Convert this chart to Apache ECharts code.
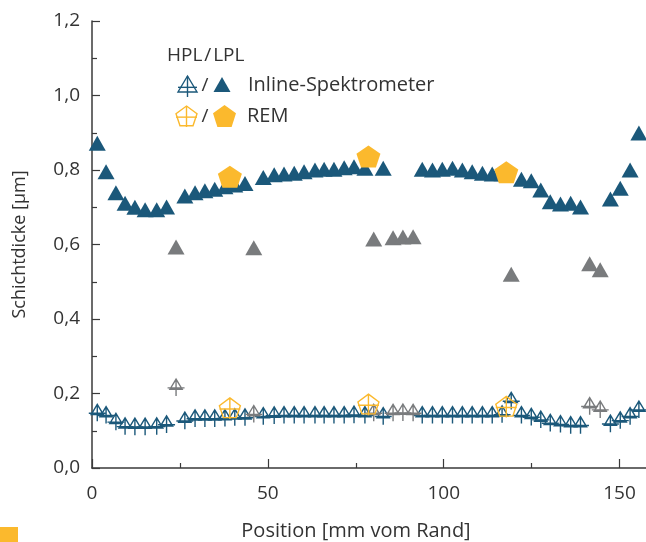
<!DOCTYPE html>
<html>
<head>
<meta charset="utf-8">
<script src="https://cdn.jsdelivr.net/npm/echarts@6/dist/echarts.min.js"></script>
<style>
html,body{margin:0;padding:0;background:#fff;}
#chart{width:646px;height:542px;}
</style>
</head>
<body>
<div id="chart"></div>
<script>
// ---- data (positions in mm, thickness in µm) ----
const lplX = [1.5, 4.0, 6.8, 9.4, 12.2, 15.1, 18.4, 21.2, 26.4, 29.3, 32.1, 34.9, 37.8, 40.6, 43.5, 48.7, 51.8, 54.6, 57.5, 60.3, 63.4, 66.0, 68.8, 71.7, 74.5, 77.6, 82.8, 93.9, 96.8, 99.6, 102.5, 105.3, 108.1, 111.0, 113.8, 116.6, 122.1, 124.9, 127.6, 130.3, 133.2, 136.1, 138.9, 147.4, 150.2, 153.0, 155.5];
const lplY = [0.872, 0.795, 0.739, 0.711, 0.700, 0.693, 0.693, 0.701, 0.730, 0.739, 0.744, 0.748, 0.755, 0.760, 0.764, 0.780, 0.787, 0.789, 0.791, 0.795, 0.800, 0.802, 0.802, 0.806, 0.809, 0.805, 0.805, 0.802, 0.800, 0.802, 0.805, 0.800, 0.795, 0.791, 0.789, 0.790, 0.775, 0.771, 0.746, 0.715, 0.709, 0.711, 0.701, 0.722, 0.751, 0.800, 0.899];
const lplGrayX = [23.9, 46.0, 80.1, 85.6, 88.4, 91.3, 119.2, 141.5, 144.5];
const lplGrayY = [0.593, 0.591, 0.615, 0.618, 0.620, 0.621, 0.520, 0.548, 0.532];

const hplX = [1.5, 4.0, 6.8, 9.4, 12.2, 15.1, 18.4, 21.2, 26.4, 29.3, 32.1, 34.9, 37.8, 40.6, 43.5, 48.7, 51.8, 54.6, 57.5, 60.3, 63.4, 66.0, 68.8, 71.7, 74.5, 77.6, 82.8, 93.9, 96.8, 99.6, 102.5, 105.3, 108.1, 111.0, 113.8, 116.6, 119.2, 122.1, 124.9, 127.6, 130.3, 133.2, 136.1, 138.9, 147.4, 150.2, 153.0, 155.5];
const hplY = [0.148, 0.142, 0.124, 0.112, 0.111, 0.111, 0.112, 0.117, 0.127, 0.133, 0.133, 0.133, 0.134, 0.136, 0.136, 0.139, 0.141, 0.142, 0.142, 0.142, 0.142, 0.142, 0.142, 0.142, 0.143, 0.142, 0.139, 0.142, 0.142, 0.142, 0.142, 0.142, 0.142, 0.142, 0.142, 0.144, 0.180, 0.142, 0.137, 0.130, 0.121, 0.118, 0.115, 0.115, 0.119, 0.128, 0.139, 0.157];
const hplGrayX = [23.9, 46.0, 80.1, 85.6, 88.4, 91.3, 141.5, 144.5];
const hplGrayY = [0.216, 0.145, 0.148, 0.148, 0.149, 0.148, 0.166, 0.157];

const remX = [39.2, 78.6, 117.8];
const remLplY = [0.782, 0.836, 0.794];
const remHplY = [0.160, 0.170, 0.164];

const xTicks = [0, 50, 100, 150];
const yTicks = [0, 0.2, 0.4, 0.6, 0.8, 1.0, 1.2];

// ---- style ----
const BLUE = '#1b587a';
const GRAY = '#797b7d';
const ORANGE = '#fbb92d';
const TEXT = '#333333';
const FONT = '"Open Sans", "Noto Sans", sans-serif';

const TRI_OPEN = 'M50 0 L86 60 L14 60 Z M50 0 L50 100 M0 52 L100 52';
const PENT_OPEN = 'M50 0 L100 37 L81 94 L19 94 L0 37 Z M50 0 L50 100 M0 53 L100 53';
const PENT_FILL = 'M50 0 L100 37 L81 100 L19 100 L0 37 Z';

function pairs(xs, ys) { return xs.map((x, i) => [x, ys[i]]); }

// legend icon builders (graphic polygons/lines in a 0..100 box)
function box(pts, x, y, w, h) { return pts.map(p => [x + p[0] * w / 100, y + p[1] * h / 100]); }
function openIcon(outline, vline, hline, x, y, w, h, color) {
  const st = {fill: null, stroke: color, lineWidth: 1.4};
  const v = box(vline, x, y, w, h), hh = box(hline, x, y, w, h);
  return [
    {type: 'polygon', shape: {points: box(outline, x, y, w, h)}, style: Object.assign({}, st, {fill: 'rgba(0,0,0,0)'})},
    {type: 'line', shape: {x1: v[0][0], y1: v[0][1], x2: v[1][0], y2: v[1][1]}, style: st},
    {type: 'line', shape: {x1: hh[0][0], y1: hh[0][1], x2: hh[1][0], y2: hh[1][1]}, style: st}
  ];
}

const chart = echarts.init(document.getElementById('chart'), null, {renderer: 'canvas'});

const graphics = [].concat(
  [{type: 'text', x: 167, y: 56, style: {text: 'HPL\u200A/\u200ALPL', fontSize: 19, fill: TEXT, fontFamily: FONT, verticalAlign: 'middle'}}],
  openIcon([[50,0],[100,76],[0,76]], [[50,0],[50,100]], [[0,54],[100,54]], 178, 76, 19, 21, BLUE),
  [
    {type: 'text', x: 205, y: 86, style: {text: '/', fontSize: 19, fill: TEXT, fontFamily: FONT, align: 'center', verticalAlign: 'middle'}},
    {type: 'polygon', shape: {points: box([[50,0],[100,100],[0,100]], 213.5, 77, 17, 15)}, style: {fill: BLUE}},
    {type: 'text', x: 248, y: 85, style: {text: 'Inline-Spektrometer', fontSize: 20, fill: TEXT, fontFamily: FONT, verticalAlign: 'middle'}}
  ],
  openIcon([[50,0],[100,37],[81,94],[19,94],[0,37]], [[50,0],[50,100]], [[0,53],[100,53]], 176, 106, 21, 21, ORANGE),
  [
    {type: 'text', x: 205, y: 117, style: {text: '/', fontSize: 19, fill: TEXT, fontFamily: FONT, align: 'center', verticalAlign: 'middle'}},
    {type: 'polygon', shape: {points: box([[50,0],[100,37],[81,100],[19,100],[0,37]], 213, 105, 23, 22)}, style: {fill: ORANGE}},
    {type: 'text', x: 247, y: 116, style: {text: 'REM', fontSize: 20, fill: TEXT, fontFamily: FONT, verticalAlign: 'middle'}},
    {type: 'text', x: 356, y: 531, style: {text: 'Position [mm vom Rand]', fontSize: 20, fill: TEXT, fontFamily: FONT, align: 'center', verticalAlign: 'middle'}},
    {type: 'rect', shape: {x: 0, y: 527, width: 18, height: 15}, style: {fill: ORANGE}}
  ]
);

const option = {
  animation: false,
  backgroundColor: '#ffffff',
  grid: {left: 92, top: 21, width: 703.4, height: 447, containLabel: false, outerBoundsMode: 'none'},
  xAxis: {
    type: 'value', min: 0, max: 200, interval: 50,
    axisLine: {show: true, onZero: false, lineStyle: {color: '#3a3a3a', width: 1.5}},
    axisTick: {show: true, inside: true, length: 9, lineStyle: {color: '#3a3a3a', width: 1.2}},
    minorTick: {show: true, splitNumber: 2, length: 5, lineStyle: {color: '#3a3a3a', width: 1.2}},
    splitLine: {show: false},
    axisLabel: {margin: 16, fontSize: 19, color: TEXT, fontFamily: FONT,
      formatter: v => xTicks.indexOf(v) >= 0 ? String(v) : ''}
  },
  yAxis: {
    type: 'value', min: 0, max: 1.2, interval: 0.2,
    name: 'Schichtdicke [µm]', nameLocation: 'middle', nameGap: 63,
    nameTextStyle: {fontSize: 18, color: TEXT, fontFamily: FONT},
    axisLine: {show: true, lineStyle: {color: '#3a3a3a', width: 1.5}},
    axisTick: {show: true, inside: true, length: 8, lineStyle: {color: '#3a3a3a', width: 1.2}},
    minorTick: {show: true, splitNumber: 2, length: 5, lineStyle: {color: '#3a3a3a', width: 1.2}},
    splitLine: {show: false},
    axisLabel: {margin: 12, fontSize: 19, color: TEXT, fontFamily: FONT,
      formatter: v => v.toFixed(1).replace('.', ',')}
  },
  series: [
    {type: 'scatter', name: 'HPL Inline', data: pairs(hplX, hplY), symbol: 'path://' + TRI_OPEN, symbolSize: [17, 17],
      itemStyle: {color: 'rgba(0,0,0,0)', borderColor: BLUE, borderWidth: 1.4, opacity: 1}, z: 2},
    {type: 'scatter', name: 'HPL Inline grau', data: pairs(hplGrayX, hplGrayY), symbol: 'path://' + TRI_OPEN, symbolSize: [17, 17],
      itemStyle: {color: 'rgba(0,0,0,0)', borderColor: GRAY, borderWidth: 1.4, opacity: 1}, z: 3},
    {type: 'scatter', name: 'HPL REM', data: pairs(remX, remHplY), symbol: 'path://' + PENT_OPEN, symbolSize: [21, 21],
      itemStyle: {color: 'rgba(0,0,0,0)', borderColor: ORANGE, borderWidth: 1.4, opacity: 1}, z: 4},
    {type: 'scatter', name: 'LPL Inline', data: pairs(lplX, lplY), symbol: 'triangle', symbolSize: [17, 15],
      itemStyle: {color: BLUE, opacity: 1}, z: 2},
    {type: 'scatter', name: 'LPL Inline grau', data: pairs(lplGrayX, lplGrayY), symbol: 'triangle', symbolSize: [17, 15],
      itemStyle: {color: GRAY, opacity: 1}, z: 3},
    {type: 'scatter', name: 'LPL REM', data: pairs(remX, remLplY), symbol: 'path://' + PENT_FILL, symbolSize: [24, 22],
      itemStyle: {color: ORANGE, opacity: 1}, z: 4}
  ],
  graphic: graphics
};
chart.setOption(option);
</script>
</body>
</html>
